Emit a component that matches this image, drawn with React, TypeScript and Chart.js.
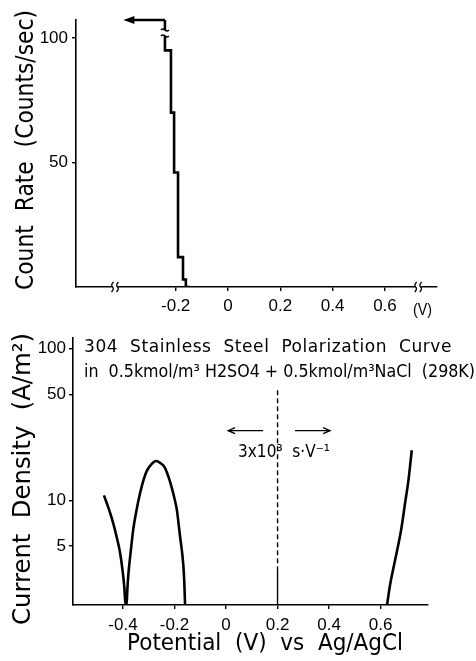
import React, { useEffect, useRef } from 'react';
import { Chart, registerables } from 'chart.js';

Chart.register(...registerables);

const FONT = '"Liberation Sans", Arial, sans-serif';
const TEXT_FONT = '"DejaVu Sans", "Liberation Sans", sans-serif';

// ---------- Top panel: count rate histogram ----------
const topXTicks = [-0.2, 0, 0.2, 0.4, 0.6];
const topYTicks = [50, 100];
const stepEdgesV = [-0.241, -0.218, -0.206, -0.191, -0.172, -0.161, -0.145];
const stepCounts = [107.2, 95, 70, 46, 12, 3, 0];
const countArrowTipV = -0.4;
const countBreakY = 102;
const topAxisBreaksV = [-0.432, 0.727];

// ---------- Bottom panel: polarization curve ----------
const botXTicks = [-0.4, -0.2, 0, 0.2, 0.4, 0.6];
const botYTicks = [5, 10, 50, 100];
const curve1V = [-0.474, -0.455, -0.438, -0.424, -0.412, -0.402, -0.395, -0.39, -0.386, -0.383, -0.379, -0.37, -0.36, -0.347, -0.334, -0.321, -0.308, -0.29, -0.272, -0.254, -0.237, -0.224, -0.211, -0.2, -0.191, -0.179, -0.166, -0.162, -0.159];
const curve1I = [10.8, 8.8, 7.1, 5.7, 4.6, 3.5, 2.7, 2.05, 2.05, 2.6, 3.27, 4.6, 6.47, 8.7, 11.1, 13.5, 15.6, 17.3, 18.2, 17.6, 16.4, 14.4, 12.2, 10.3, 8.7, 5.9, 3.8, 2.9, 2.05];
const curve2V = [0.625, 0.637, 0.65, 0.663, 0.676, 0.686, 0.695, 0.708, 0.721];
const curve2I = [2.05, 2.8, 3.6, 4.6, 5.9, 7.5, 9.6, 13.5, 21.4];
const dividerV = 0.2;
const dividerDashI = [53.2, 3.5];
const dividerSolidI = [3.5, 2.05];
const scanArrowI = 28.8;
const scanArrowLeftV = [0.144, 0.008];
const scanArrowRightV = [0.268, 0.404];

const fmt = (v: number) => (v === 0 ? '0' : String(v));

function drawFit(ctx: CanvasRenderingContext2D, text: string, x: number, y: number, width: number) {
  ctx.textAlign = 'left';
  (ctx as any).letterSpacing = '0px';
  const w = ctx.measureText(text).width;
  if (w >= width) {
    ctx.fillText(text, x, y, width);
    return;
  }
  const n = [...text].length;
  const ls = (width - w) / Math.max(1, n);
  (ctx as any).letterSpacing = ls + 'px';
  ctx.fillText(text, x, y);
  (ctx as any).letterSpacing = '0px';
}

function drawAxisBreak(ctx: CanvasRenderingContext2D, bx: number, by: number) {
  ctx.save();
  ctx.fillStyle = '#fff';
  ctx.fillRect(bx - 3, by - 3, 6, 6);
  ctx.strokeStyle = '#000';
  ctx.lineWidth = 1.3;
  for (const dx of [-2.5, 2.5]) {
    ctx.beginPath();
    ctx.moveTo(bx + dx + 1, by - 5);
    ctx.quadraticCurveTo(bx + dx - 2, by - 2, bx + dx, by);
    ctx.quadraticCurveTo(bx + dx + 2, by + 2, bx + dx - 1, by + 5);
    ctx.stroke();
  }
  ctx.restore();
}

const topDeco = {
  id: 'topDeco',
  afterDraw(chart: any) {
    const { ctx, scales } = chart;
    const x = scales.x, y = scales.y;
    ctx.save();
    ctx.strokeStyle = '#000';
    ctx.fillStyle = '#000';
    const x0 = x.getPixelForValue(stepEdgesV[0]);
    const ya = y.getPixelForValue(stepCounts[0]);
    const xt = x.getPixelForValue(countArrowTipV);
    ctx.lineWidth = 2.5;
    ctx.beginPath();
    ctx.moveTo(x0, ya);
    ctx.lineTo(xt + 8, ya);
    ctx.stroke();
    ctx.beginPath();
    ctx.moveTo(xt, ya);
    ctx.lineTo(xt + 11, ya - 4);
    ctx.lineTo(xt + 11, ya + 4);
    ctx.closePath();
    ctx.fill();
    const yb = y.getPixelForValue(countBreakY);
    ctx.fillStyle = '#fff';
    ctx.fillRect(x0 - 4, yb - 2.5, 8, 5);
    ctx.lineWidth = 1.3;
    for (const dy of [-3, 3]) {
      ctx.beginPath();
      ctx.moveTo(x0 - 4, yb + dy);
      ctx.quadraticCurveTo(x0 - 2, yb + dy - 2, x0, yb + dy);
      ctx.quadraticCurveTo(x0 + 2, yb + dy + 2, x0 + 4, yb + dy);
      ctx.stroke();
    }
    for (const v of topAxisBreaksV) drawAxisBreak(ctx, x.getPixelForValue(v), y.bottom);
    ctx.fillStyle = '#000';
    ctx.textBaseline = 'alphabetic';
    ctx.font = `17px ${FONT}`;
    drawFit(ctx, '(V)', 413, 315, 19);
    ctx.font = `25px ${TEXT_FONT}`;
    ctx.translate(33, 150);
    ctx.rotate(-Math.PI / 2);
    drawFit(ctx, 'Count  Rate  (Counts/sec)', -140, 0, 280);
    ctx.restore();
  },
};

const botDeco = {
  id: 'botDeco',
  afterDraw(chart: any) {
    const { ctx, scales } = chart;
    const x = scales.x, y = scales.y;
    ctx.save();
    ctx.fillStyle = '#000';
    ctx.strokeStyle = '#000';
    ctx.textBaseline = 'alphabetic';
    ctx.font = `17px ${TEXT_FONT}`;
    drawFit(ctx, '304  Stainless  Steel  Polarization  Curve', 84, 27, 368);
    drawFit(ctx, 'in  0.5kmol/m³ H2SO4 + 0.5kmol/m³NaCl  (298K)', 84, 52, 391);
    drawFit(ctx, '3x10³  s·V⁻¹', 238, 132, 92);
    const ya = y.getPixelForValue(scanArrowI);
    ctx.lineWidth = 1.3;
    const arrow = (fromV: number, toV: number) => {
      const a = x.getPixelForValue(fromV), b = x.getPixelForValue(toV);
      const d = Math.sign(b - a);
      ctx.beginPath();
      ctx.moveTo(a, ya);
      ctx.lineTo(b, ya);
      ctx.moveTo(b - d * 7, ya - 3);
      ctx.lineTo(b, ya);
      ctx.lineTo(b - d * 7, ya + 3);
      ctx.stroke();
    };
    arrow(scanArrowLeftV[0], scanArrowLeftV[1]);
    arrow(scanArrowRightV[0], scanArrowRightV[1]);
    ctx.font = `23px ${TEXT_FONT}`;
    drawFit(ctx, 'Potential  (V)  vs  Ag/AgCl', 127, 325, 276);
    ctx.font = `25px ${TEXT_FONT}`;
    ctx.translate(30, 154);
    ctx.rotate(-Math.PI / 2);
    drawFit(ctx, 'Current  Density  (A/m²)', -146, 0, 292);
    ctx.restore();
  },
};

const axisCommon = (ticksList: number[]) => ({
  border: { display: true, color: '#000', width: 1.6 },
  grid: { display: true, drawOnChartArea: false, drawTicks: true, color: '#000', lineWidth: 1.4, tickLength: 4 },
  afterBuildTicks: (s: any) => {
    s.ticks = ticksList.map((v) => ({ value: v }));
  },
});

export default function App() {
  const topRef = useRef<HTMLCanvasElement>(null);
  const botRef = useRef<HTMLCanvasElement>(null);

  useEffect(() => {
    document.body.style.margin = '0';
    Chart.defaults.font.family = FONT;
    Chart.defaults.color = '#000';

    const top = new Chart(topRef.current!, {
      type: 'line',
      data: {
        datasets: [
          {
            data: stepEdgesV.map((v, i) => ({ x: v, y: stepCounts[i] })),
            stepped: 'after',
            borderColor: '#000',
            borderWidth: 2.6,
            pointRadius: 0,
            fill: false,
          },
        ],
      },
      options: {
        responsive: false,
        animation: false,
        events: [],
        layout: { padding: { left: 0, right: 39, top: 20, bottom: 0 } },
        plugins: { legend: { display: false }, tooltip: { enabled: false } },
        scales: {
          x: {
            type: 'linear',
            min: -0.581,
            max: 0.799,
            ...axisCommon(topXTicks),
            afterFit: (s: any) => { s.height = 38; },
            ticks: { font: { size: 17 }, padding: 5, maxRotation: 0, autoSkip: false, callback: (v: any) => fmt(Number(v)) },
          },
          y: {
            type: 'linear',
            min: 0,
            max: 107.2,
            ...axisCommon(topYTicks),
            afterFit: (s: any) => { s.width = 76; },
            ticks: { font: { size: 17 }, padding: 4, autoSkip: false, callback: (v: any) => fmt(Number(v)) },
          },
        },
      },
      plugins: [topDeco],
    } as any);

    const bot = new Chart(botRef.current!, {
      type: 'line',
      data: {
        datasets: [
          {
            data: curve1V.map((v, i) => ({ x: v, y: curve1I[i] })),
            borderColor: '#000',
            borderWidth: 2.6,
            pointRadius: 0,
            cubicInterpolationMode: 'monotone',
            fill: false,
          },
          {
            data: curve2V.map((v, i) => ({ x: v, y: curve2I[i] })),
            borderColor: '#000',
            borderWidth: 2.6,
            pointRadius: 0,
            cubicInterpolationMode: 'monotone',
            fill: false,
          },
          {
            data: dividerDashI.map((c) => ({ x: dividerV, y: c })),
            borderColor: '#000',
            borderWidth: 1.4,
            borderDash: [5, 3],
            pointRadius: 0,
            fill: false,
          },
          {
            data: dividerSolidI.map((c) => ({ x: dividerV, y: c })),
            borderColor: '#000',
            borderWidth: 1.4,
            pointRadius: 0,
            fill: false,
          },
        ],
      },
      options: {
        responsive: false,
        animation: false,
        events: [],
        layout: { padding: { left: 0, right: 48, top: 4, bottom: 0 } },
        plugins: { legend: { display: false }, tooltip: { enabled: false } },
        scales: {
          x: {
            type: 'linear',
            min: -0.594,
            max: 0.784,
            ...axisCommon(botXTicks),
            afterFit: (s: any) => { s.height = 56; },
            ticks: { font: { size: 17 }, padding: 6, maxRotation: 0, autoSkip: false, callback: (v: any) => fmt(Number(v)) },
          },
          y: {
            type: 'logarithmic',
            min: 2.05,
            max: 117,
            ...axisCommon(botYTicks),
            afterFit: (s: any) => { s.width = 73; },
            ticks: { font: { size: 17 }, padding: 3, autoSkip: false, callback: (v: any) => fmt(Number(v)) },
          },
        },
      },
      plugins: [botDeco],
    } as any);

    return () => {
      top.destroy();
      bot.destroy();
    };
  }, []);

  return (
    <div style={{ position: 'relative', width: 476, height: 661, background: '#fff' }}>
      <canvas ref={topRef} width={476} height={325} style={{ position: 'absolute', left: 0, top: 0 }} />
      <canvas ref={botRef} width={476} height={336} style={{ position: 'absolute', left: 0, top: 325 }} />
    </div>
  );
}
